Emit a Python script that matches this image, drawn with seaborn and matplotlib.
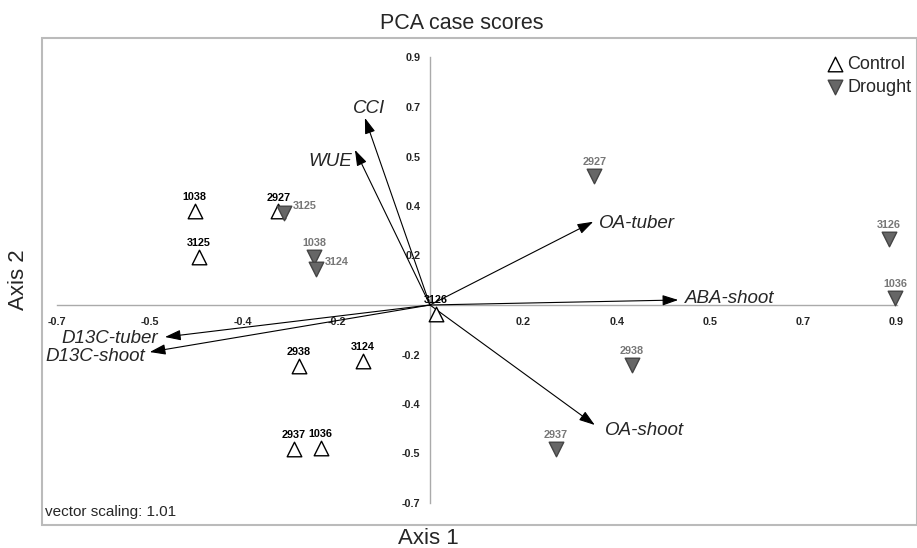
import matplotlib
matplotlib.use('Agg')
import matplotlib.pyplot as plt
from matplotlib.patches import Rectangle
import pandas as pd
import seaborn as sns

# case scores
control_ids = ['1038', '2927', '3125', '2938', '3124', '2937', '1036', '3126']
control_x = [-0.448, -0.289, -0.440, -0.250, -0.128, -0.260, -0.208, 0.011]
control_y = [0.337, 0.336, 0.173, -0.219, -0.201, -0.518, -0.515, -0.032]

drought_ids = ['3125', '1038', '3124', '2927', '3126', '1036', '2938', '2937']
drought_x = [-0.278, -0.221, -0.217, 0.313, 0.875, 0.886, 0.384, 0.240]
drought_y = [0.332, 0.173, 0.128, 0.463, 0.237, 0.025, -0.216, -0.518]

# biplot vectors
vector_names = ['CCI', 'WUE', 'OA-tuber', 'ABA-shoot', 'OA-shoot', 'D13C-tuber', 'D13C-shoot']
vector_x = [-0.124, -0.143, 0.311, 0.473, 0.314, -0.505, -0.534]
vector_y = [0.672, 0.557, 0.299, 0.018, -0.431, -0.115, -0.169]

tick_values = [-0.711, -0.533, -0.356, -0.178, 0.0, 0.178, 0.356, 0.533, 0.711, 0.889]
tick_labels = ['-0.7', '-0.5', '-0.4', '-0.2', '', '0.2', '0.4', '0.5', '0.7', '0.9']

df = pd.concat([
    pd.DataFrame({'id': control_ids, 'x': control_x, 'y': control_y, 'group': 'Control'}),
    pd.DataFrame({'id': drought_ids, 'x': drought_x, 'y': drought_y, 'group': 'Drought'}),
], ignore_index=True)

sns.set_style('white')
plt.rcParams['font.family'] = ['Liberation Sans', 'DejaVu Sans']

fig = plt.figure(figsize=(9.17, 5.48), dpi=100)
ax = fig.add_axes([0.0458, 0.042, 0.9542, 0.8887])
ax.set_xlim(-0.7393, 0.928)
ax.set_ylim(-0.7902, 0.9591)

# axes through the origin
grey = '#aaaaaa'
for side in ['top', 'right']:
    ax.spines[side].set_visible(False)
ax.spines['left'].set_position(('data', 0))
ax.spines['bottom'].set_position(('data', 0))
ax.spines['left'].set_bounds(tick_values[0], tick_values[-1])
ax.spines['bottom'].set_bounds(tick_values[0], tick_values[-1])
for side in ['left', 'bottom']:
    ax.spines[side].set_color(grey)
    ax.spines[side].set_linewidth(1)
    ax.spines[side].set_zorder(0)
ax.set_xticks(tick_values)
ax.set_xticklabels(tick_labels)
ax.set_yticks(tick_values)
ax.set_yticklabels(tick_labels)
ax.tick_params(axis='both', direction='out', length=5, width=1, color=grey,
               labelsize=7.8, pad=2)
ax.tick_params(axis='x', pad=4)
for lab in ax.get_xticklabels() + ax.get_yticklabels():
    lab.set_fontweight('bold')

# outer frame
ax.add_patch(Rectangle((0, 0), 1, 1, transform=ax.transAxes, fill=False,
                       edgecolor='#bbbbbb', lw=1.5, clip_on=False))

# vectors
label_place = {
    'CCI': ('center', 'bottom', 3, 1),
    'WUE': ('right', 'top', -2, -2),
    'OA-tuber': ('left', 'center', 4, -1),
    'ABA-shoot': ('left', 'center', 5, 1),
    'OA-shoot': ('left', 'center', 7, -4),
    'D13C-tuber': ('right', 'center', -5, -1),
    'D13C-shoot': ('right', 'center', -3, -3),
}
for name, vx, vy in zip(vector_names, vector_x, vector_y):
    ax.annotate('', xy=(vx, vy), xytext=(0, 0),
                arrowprops=dict(arrowstyle='-|>,head_length=0.6,head_width=0.2',
                                color='black', lw=0.8, mutation_scale=16,
                                shrinkA=0, shrinkB=0), zorder=3)
    ha, va, dx, dy = label_place[name]
    ax.annotate(name, xy=(vx, vy), xytext=(dx, dy), textcoords='offset points',
                ha=ha, va=va, fontsize=13.5, style='italic', zorder=4)

# case points
sns.scatterplot(data=df[df.group == 'Control'], x='x', y='y', marker='^', s=110,
                color='white', edgecolor='black', linewidth=1, ax=ax,
                label='Control', zorder=5)
sns.scatterplot(data=df[df.group == 'Drought'], x='x', y='y', marker='v', s=110,
                color='#666666', edgecolor='#444444', linewidth=1, ax=ax,
                label='Drought', zorder=5)

right_side = {('Drought', '3125'), ('Drought', '3124')}
for _, row in df.iterrows():
    col = 'black' if row.group == 'Control' else '#777777'
    if (row.group, row.id) in right_side:
        ax.annotate(row.id, xy=(row.x, row.y), xytext=(6, 5), textcoords='offset points',
                    ha='left', va='center', fontsize=7.8, fontweight='bold', color=col, zorder=6)
    else:
        ax.annotate(row.id, xy=(row.x, row.y), xytext=(0, 10), textcoords='offset points',
                    ha='center', va='center', fontsize=7.8, fontweight='bold', color=col, zorder=6)

ax.set_xlabel('')
ax.set_ylabel('')
leg = ax.legend(loc='upper right', bbox_to_anchor=(1.002, 0.978), frameon=False,
                fontsize=13, handletextpad=0.1, handlelength=1.2, labelspacing=0.35,
                borderaxespad=0.0)

ax.text(0.004, 0.012, 'vector scaling: 1.01', transform=ax.transAxes, fontsize=11,
        ha='left', va='bottom')
fig.text(0.503, 0.958, 'PCA case scores', fontsize=15.5, ha='center', va='center')
fig.text(0.467, 0.018, 'Axis 1', fontsize=16, ha='center', va='center')
fig.text(0.02, 0.49, 'Axis 2', fontsize=16, ha='center', va='center', rotation=90)

fig.savefig('out.png', dpi=100)
